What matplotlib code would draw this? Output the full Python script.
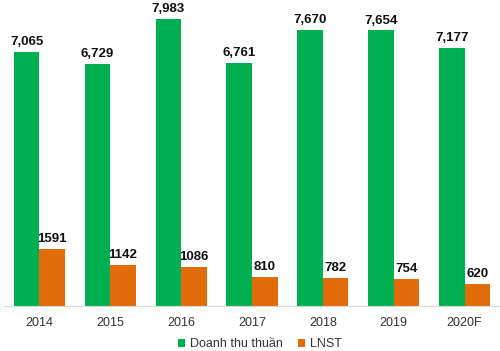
import numpy as np
import matplotlib.pyplot as plt

years = ['2014', '2015', '2016', '2017', '2018', '2019', '2020F']
doanh_thu = [7065, 6729, 7983, 6761, 7670, 7654, 7177]
lnst = [1591, 1142, 1086, 810, 782, 754, 620]
dt_labels = ['7,065', '6,729', '7,983', '6,761', '7,670', '7,654', '7,177']
lnst_labels = ['1591', '1142', '1086', '810', '782', '754', '620']

green = '#00B050'
orange = '#E36C0A'

plt.rcParams['font.family'] = ['Liberation Sans', 'DejaVu Sans']

fig = plt.figure(figsize=(5, 3.51), dpi=100)
ax = fig.add_axes([0.008, 0.128, 0.992, 0.872])

x = np.arange(len(years))
w = 0.36
b1 = ax.bar(x - w / 2, doanh_thu, w, color=green, label='Doanh thu thuần')
b2 = ax.bar(x + w / 2, lnst, w, color=orange, label='LNST')

# value labels above each bar
for bars, labs in [(b1, dt_labels), (b2, lnst_labels)]:
    for rect, lab in zip(bars, labs):
        ax.text(rect.get_x() + rect.get_width() / 2, rect.get_height() + 110, lab,
                ha='center', va='bottom', fontsize=9.5, fontweight='bold', color='#111111')

ax.set_xlim(-0.5, len(years) - 0.5)
ax.set_ylim(0, 8500)
ax.set_xticks(x)
ax.set_xticklabels(years, fontsize=9, color='#333333')
ax.tick_params(axis='x', length=0, pad=8)
ax.set_yticks([])
for s in ['top', 'left', 'right']:
    ax.spines[s].set_visible(False)
ax.spines['bottom'].set_color('#d9d9d9')

fig.legend(handles=[b1, b2], loc='lower center', bbox_to_anchor=(0.52, -0.03), ncol=2,
           frameon=False, fontsize=9, handlelength=0.55, handleheight=0.55,
           handletextpad=0.4, columnspacing=1.2, labelcolor='#333333')

fig.savefig('out.png', dpi=100)
